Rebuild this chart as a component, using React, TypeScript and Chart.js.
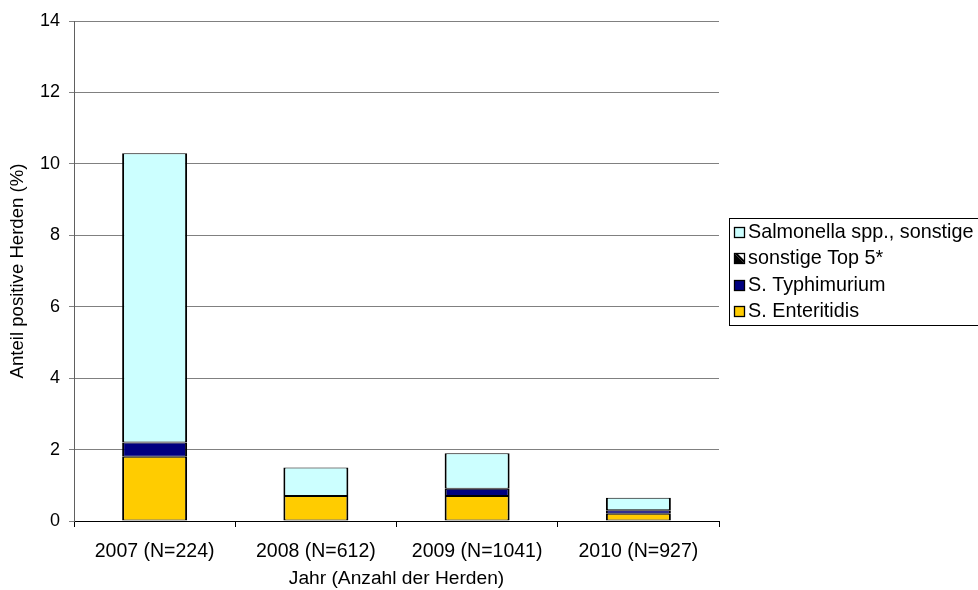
import React, { useEffect, useRef } from "react";
import { Chart, registerables } from "chart.js";

Chart.register(...registerables);

const categories = ["2007 (N=224)", "2008 (N=612)", "2009 (N=1041)", "2010 (N=927)"];
const enteritidis = [1.8, 0.7, 0.7, 0.2];
const typhimurium = [0.4, null, 0.2, 0.1];
const top5 = [null, null, null, null];
const sonstige = [8.1, 0.8, 1.0, 0.35];
const seriesLabels = ["S. Enteritidis", "S. Typhimurium", "sonstige Top 5*", "Salmonella spp., sonstige"];
const yTicks = [0, 2, 4, 6, 8, 10, 12, 14];

const FONT = "'Liberation Sans', Arial, sans-serif";

function makePattern(): CanvasPattern | string {
  const c = document.createElement("canvas");
  c.width = 8;
  c.height = 8;
  const g = c.getContext("2d");
  if (!g) return "#000";
  g.fillStyle = "#fff";
  g.fillRect(0, 0, 8, 8);
  g.strokeStyle = "#000";
  g.lineWidth = 2;
  g.beginPath();
  g.moveTo(0, 0);
  g.lineTo(8, 8);
  g.stroke();
  const p = g.createPattern(c, "repeat");
  return p || "#000";
}

const legendPlugin = {
  id: "boxLegend",
  afterDraw(chart: any) {
    const ctx = chart.ctx as CanvasRenderingContext2D;
    const bx = 729.5, by = 218.5, bw = 270, bh = 107;
    ctx.save();
    ctx.fillStyle = "#fff";
    ctx.fillRect(bx, by, bw, bh);
    ctx.strokeStyle = "#000";
    ctx.lineWidth = 1;
    ctx.strokeRect(bx, by, bw, bh);
    const ds = chart.data.datasets.slice().reverse();
    ctx.font = `19.8px ${FONT}`;
    ctx.textBaseline = "middle";
    ds.forEach((d: any, i: number) => {
      const cy = 231.5 + i * 26.5;
      const ix = 734.5, iy = Math.round(cy - 5) + 0.5, s = 10;
      if (d.label === "sonstige Top 5*") {
        ctx.fillStyle = "#fff";
        ctx.fillRect(ix, iy, s, s);
        ctx.fillStyle = "#000";
        ctx.beginPath();
        ctx.moveTo(ix, iy);
        ctx.lineTo(ix, iy + s);
        ctx.lineTo(ix + s, iy + s);
        ctx.closePath();
        ctx.fill();
        ctx.beginPath();
        ctx.moveTo(ix, iy);
        ctx.lineTo(ix + 3, iy);
        ctx.lineTo(ix + s, iy + s - 3);
        ctx.lineTo(ix + s, iy + s);
        ctx.closePath();
        ctx.fill();
      } else {
        ctx.fillStyle = d.backgroundColor;
        ctx.fillRect(ix, iy, s, s);
      }
      ctx.strokeStyle = "#000";
      ctx.lineWidth = 1.3;
      ctx.strokeRect(ix, iy, s, s);
      ctx.fillStyle = "#000";
      ctx.textAlign = "left";
      ctx.fillText(d.label, 748, cy + 1);
    });
    ctx.restore();
  },
};

export default function App() {
  const ref = useRef<HTMLCanvasElement | null>(null);
  useEffect(() => {
    document.body.style.margin = "0";
    const canvas = ref.current;
    if (!canvas) return;
    const pattern = makePattern();
    const common = {
      borderColor: "#000",
      borderWidth: { top: 1, bottom: 1, left: 2, right: 2 },
      borderSkipped: false as const,
      barPercentage: 0.403,
      categoryPercentage: 1,
    };
    const chart = new Chart(canvas, {
      type: "bar",
      data: {
        labels: categories,
        datasets: [
          { label: seriesLabels[0], data: enteritidis, backgroundColor: "#FFCC00", ...common },
          { label: seriesLabels[1], data: typhimurium, backgroundColor: "#000080", ...common },
          { label: seriesLabels[2], data: top5, backgroundColor: pattern as any, ...common },
          { label: seriesLabels[3], data: sonstige, backgroundColor: "#CCFFFF", ...common },
        ],
      },
      options: {
        responsive: false,
        animation: false,
        devicePixelRatio: 1,
        layout: { padding: { top: 21, right: 259, left: 0, bottom: 0 } },
        plugins: { legend: { display: false }, tooltip: { enabled: false } },
        scales: {
          x: {
            stacked: true,
            offset: true,
            grid: { display: true, drawOnChartArea: false, drawTicks: true, tickLength: 6, color: "#000", offset: true },
            border: { display: true, color: "#000" },
            ticks: { color: "#000", font: { family: FONT, size: 19.5 }, padding: 13, maxRotation: 0, autoSkip: false },
            title: { display: true, text: "Jahr (Anzahl der Herden)", color: "#000", font: { family: FONT, size: 19.2 }, padding: { top: 2, bottom: 0 } },
            afterFit: (s: any) => { s.height = 69; },
          },
          y: {
            stacked: true,
            min: 0,
            max: 14,
            afterBuildTicks: (s: any) => { s.ticks = yTicks.map((v) => ({ value: v })); },
            grid: { color: "#808080", tickLength: 5, drawTicks: true },
            border: { display: true, color: "#606060" },
            ticks: { color: "#000", font: { family: FONT, size: 18 }, padding: 9 },
            title: { display: true, text: "Anteil positive Herden (%)", color: "#000", font: { family: FONT, size: 18.6 }, padding: { top: 7, bottom: 6 } },
            afterFit: (s: any) => { s.width = 74; },
          },
        },
      },
      plugins: [legendPlugin],
    });
    return () => chart.destroy();
  }, []);
  return (
    <canvas
      ref={ref}
      width={978}
      height={590}
      style={{ display: "block", width: "978px", height: "590px" }}
    />
  );
}
